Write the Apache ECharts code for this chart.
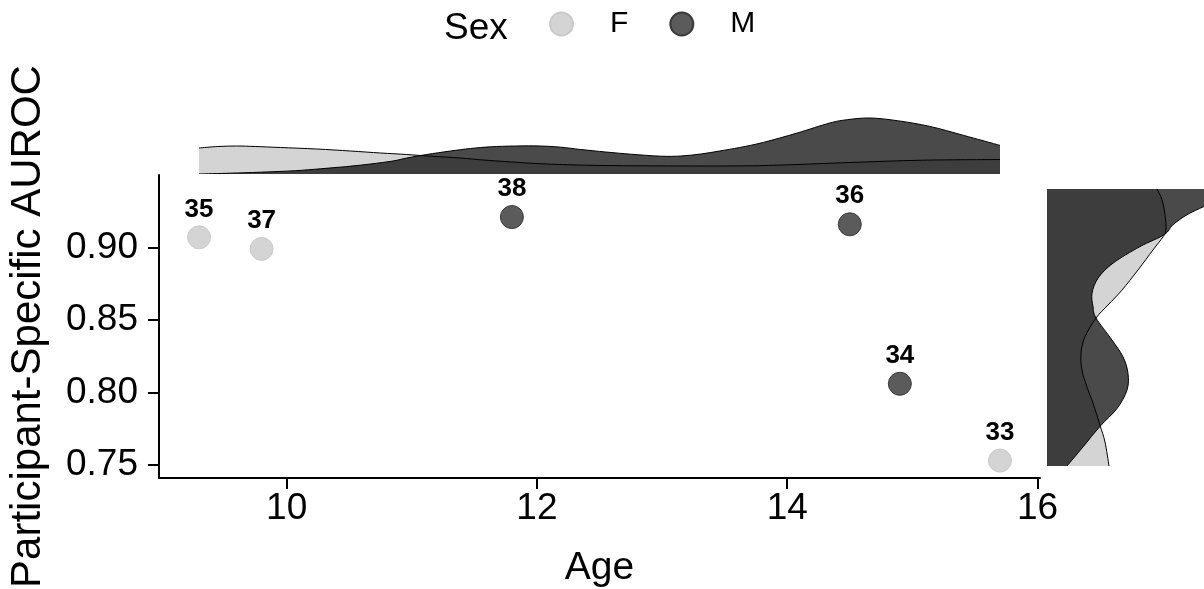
<!DOCTYPE html>
<html>
<head>
<meta charset="utf-8">
<script src="https://cdn.jsdelivr.net/npm/echarts@6/dist/echarts.min.js"></script>
<style>
  html, body { margin: 0; padding: 0; background: #ffffff; }
  #chart { width: 1204px; height: 589px; }
</style>
</head>
<body>
<div id="chart"></div>
<script>
// Participants: id, sex, age and per-participant AUROC
const participants = ['35', '37', '38', '36', '34', '33'];
const sex = ['F', 'F', 'M', 'M', 'M', 'F'];
const age = [9.3, 9.8, 11.8, 14.5, 14.9, 15.7];
const auroc = [0.907, 0.899, 0.921, 0.916, 0.806, 0.753];

const xTicks = [10, 12, 14, 16];
const yTicks = [0.75, 0.80, 0.85, 0.90];
const sexLevels = ['F', 'M'];

// Marginal density of age by sex (relative units)
const ageGridF = [9.30, 9.45, 9.60, 9.75, 9.95, 10.24, 10.51, 10.75, 10.96, 11.15, 11.39, 11.57, 11.80, 12.04, 12.39, 12.80, 13.30, 13.70, 14.01, 14.50, 15.08, 15.70];
const ageDensF = [0.260, 0.275, 0.280, 0.275, 0.265, 0.250, 0.230, 0.210, 0.195, 0.178, 0.160, 0.140, 0.120, 0.102, 0.088, 0.082, 0.080, 0.082, 0.092, 0.115, 0.138, 0.145];
const ageGridM = [9.30, 9.55, 9.79, 10.07, 10.27, 10.47, 10.67, 10.85, 10.96, 11.12, 11.31, 11.47, 11.63, 11.83, 12.03, 12.19, 12.35, 12.55, 12.75, 12.99, 13.15, 13.31, 13.46, 13.62, 13.81, 14.08, 14.34, 14.48, 14.66, 14.88, 15.14, 15.41, 15.70];
const ageDensM = [0.000, 0.008, 0.018, 0.033, 0.052, 0.073, 0.100, 0.130, 0.160, 0.195, 0.230, 0.255, 0.272, 0.280, 0.280, 0.268, 0.245, 0.220, 0.198, 0.178, 0.180, 0.200, 0.230, 0.265, 0.316, 0.410, 0.510, 0.543, 0.560, 0.533, 0.476, 0.386, 0.286];

// Marginal density of AUROC by sex (relative units)
const aurocGridF = [0.9400, 0.9326, 0.9223, 0.9119, 0.9071, 0.8981, 0.8843, 0.8705, 0.8602, 0.8513, 0.8384, 0.8272, 0.8155, 0.8039, 0.7927, 0.7775, 0.7660, 0.7495];
const aurocDensF = [1.10, 1.15, 1.18, 1.19, 1.16, 1.06, 0.91, 0.75, 0.61, 0.49, 0.38, 0.34, 0.35, 0.40, 0.46, 0.53, 0.58, 0.62];
const aurocGridM = [0.9400, 0.9340, 0.9280, 0.9223, 0.9154, 0.9085, 0.9004, 0.8890, 0.8786, 0.8683, 0.8591, 0.8513, 0.8361, 0.8246, 0.8132, 0.8017, 0.7890, 0.7768, 0.7626, 0.7495];
const aurocDensM = [1.95, 1.75, 1.57, 1.40, 1.26, 1.17, 0.93, 0.66, 0.51, 0.45, 0.46, 0.49, 0.65, 0.76, 0.81, 0.80, 0.70, 0.53, 0.36, 0.20];

const FONT = '"Liberation Sans", Arial, Helvetica, sans-serif';
const sexColor = { F: '#d4d4d4', M: '#5b5b5b' };
const sexBorder = { F: '#cacaca', M: '#3a3a3a' };

function scatterData(level) {
  const out = [];
  for (let i = 0; i < age.length; i++) {
    if (sex[i] === level) out.push([age[i], auroc[i], participants[i]]);
  }
  return out;
}

// Smooth curve through pixel points (Catmull-Rom as cubic Beziers)
function curvePath(pts) {
  let d = pts[0][0] + ',' + pts[0][1];
  for (let i = 0; i < pts.length - 1; i++) {
    const p0 = pts[Math.max(i - 1, 0)], p1 = pts[i], p2 = pts[i + 1], p3 = pts[Math.min(i + 2, pts.length - 1)];
    const c1x = p1[0] + (p2[0] - p0[0]) / 6, c1y = p1[1] + (p2[1] - p0[1]) / 6;
    const c2x = p2[0] - (p3[0] - p1[0]) / 6, c2y = p2[1] - (p3[1] - p1[1]) / 6;
    d += ' C' + c1x + ',' + c1y + ' ' + c2x + ',' + c2y + ' ' + p2[0] + ',' + p2[1];
  }
  return d;
}

// Filled density curve; horizontal = density runs along x (right margin)
function densitySeries(name, axisIndex, data, horizontal, fill) {
  return {
    type: 'custom',
    name: name,
    xAxisIndex: axisIndex,
    yAxisIndex: axisIndex,
    data: data,
    encode: { x: 0, y: 1 },
    silent: true,
    clip: true,
    renderItem: function (params, api) {
      if (params.dataIndex !== 0) return null;
      const pts = data.map(function (r) { return api.coord(r); });
      const first = data[0], last = data[data.length - 1];
      const b0 = horizontal ? api.coord([0, first[1]]) : api.coord([first[0], 0]);
      const b1 = horizontal ? api.coord([0, last[1]]) : api.coord([last[0], 0]);
      const curve = curvePath(pts);
      return {
        type: 'group',
        children: [
          { type: 'path', shape: { pathData: 'M' + b0[0] + ',' + b0[1] + ' L' + curve + ' L' + b1[0] + ',' + b1[1] + ' Z' },
            style: { fill: fill, stroke: 'none' } },
          { type: 'path', shape: { pathData: 'M' + curve },
            style: { fill: 'none', stroke: '#000000', lineWidth: 1 } }
        ]
      };
    }
  };
}

function zip(a, b) { return a.map(function (v, i) { return [v, b[i]]; }); }

const chart = echarts.init(document.getElementById('chart'));

const option = {
  backgroundColor: '#ffffff',
  animation: false,
  textStyle: { fontFamily: FONT },
  grid: [
    { left: 159, top: 175, width: 881, height: 303, outerBoundsMode: 'none' },
    { left: 199, top: 104, width: 801, height: 70, outerBoundsMode: 'none' },
    { left: 1047, top: 189, width: 157, height: 277, outerBoundsMode: 'none' }
  ],
  xAxis: [
    {
      gridIndex: 0, type: 'value', min: 8.98, max: 16.02,
      name: 'Age', nameLocation: 'middle', nameGap: 71,
      nameTextStyle: { fontSize: 39, color: '#000', fontFamily: FONT },
      axisLine: { show: true, lineStyle: { color: '#000', width: 2 } },
      axisTick: { show: true, length: 11, lineStyle: { color: '#000', width: 2 }, customValues: xTicks },
      axisLabel: { fontSize: 37, color: '#000', margin: 12, fontFamily: FONT, customValues: xTicks },
      splitLine: { show: false }
    },
    { gridIndex: 1, type: 'value', min: 9.3, max: 15.7, show: false },
    { gridIndex: 2, type: 'value', min: 0, max: 1.57, show: false }
  ],
  yAxis: [
    {
      gridIndex: 0, type: 'value', min: 0.741, max: 0.950,
      name: 'Participant-Specific AUROC', nameLocation: 'middle', nameGap: 110, nameRotate: 90,
      nameTextStyle: { fontSize: 42, color: '#000', fontFamily: FONT },
      axisLine: { show: true, lineStyle: { color: '#000', width: 2 } },
      axisTick: { show: true, length: 11, lineStyle: { color: '#000', width: 2 }, customValues: yTicks },
      axisLabel: { fontSize: 37, color: '#000', margin: 21, fontFamily: FONT, customValues: yTicks,
                   formatter: function (v) { return v.toFixed(2); } },
      splitLine: { show: false }
    },
    { gridIndex: 1, type: 'value', min: 0, max: 0.70, show: false },
    { gridIndex: 2, type: 'value', min: 0.7495, max: 0.9400, show: false }
  ],
  legend: {
    data: sexLevels,
    left: 544, top: 4,
    itemWidth: 23, itemHeight: 23, itemGap: 41,
    icon: 'circle',
    textStyle: { fontSize: 30, color: '#000', fontFamily: FONT, padding: [0, 0, 0, 32] }
  },
  graphic: [
    { type: 'text', left: 444, top: 10, style: { text: 'Sex', fontSize: 37, fill: '#000', font: '37px ' + FONT } }
  ],
  series: [
    densitySeries('M age density', 1, zip(ageGridM, ageDensM), false, '#4a4a4a'),
    densitySeries('F age density', 1, zip(ageGridF, ageDensF), false, 'rgba(0,0,0,0.17)'),
    densitySeries('M AUROC density', 2, zip(aurocDensM, aurocGridM), true, '#4a4a4a'),
    densitySeries('F AUROC density', 2, zip(aurocDensF, aurocGridF), true, 'rgba(0,0,0,0.17)')
  ].concat(sexLevels.map(function (level) {
    return {
      type: 'scatter', name: level, xAxisIndex: 0, yAxisIndex: 0,
      data: scatterData(level),
      symbol: 'circle', symbolSize: 23,
      itemStyle: { color: sexColor[level], borderColor: sexBorder[level], borderWidth: 1, opacity: 1 },
      label: {
        show: true, position: 'top', distance: 3,
        formatter: function (p) { return p.value[2]; },
        fontSize: 26, fontWeight: 'bold', color: '#000', fontFamily: FONT
      },
      z: 5
    };
  }))
};

chart.setOption(option);
</script>
</body>
</html>
